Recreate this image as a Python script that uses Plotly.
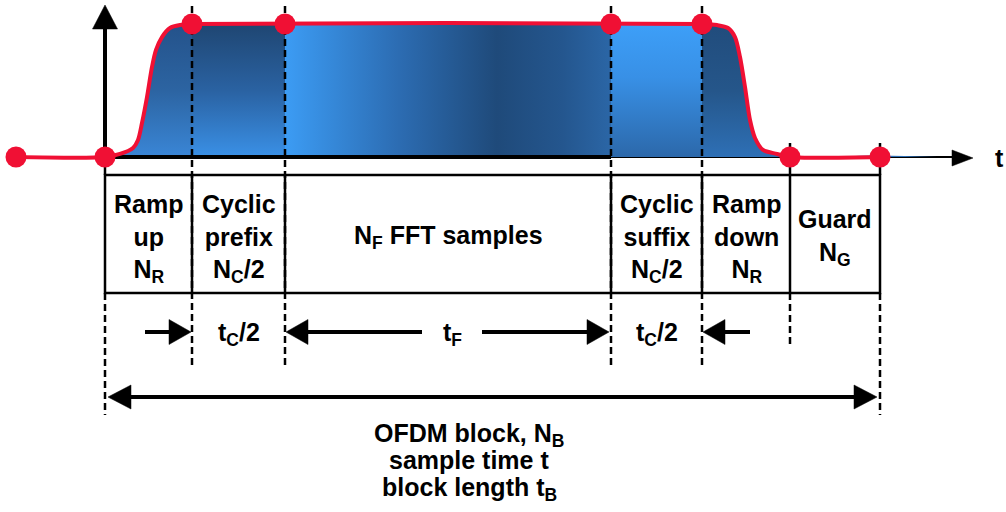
import plotly.graph_objects as go

# ---------------- data ----------------
# time axis: sample-time units, origin at the start of the OFDM block
edges_t = [0, 87, 180, 506, 597, 685, 775]          # segment boundaries
lead_t = [-89]
lead_a = [0.0]
ramp_up_t = [0, 15, 28, 33, 37, 42, 47, 51, 57, 65, 75, 87]
ramp_up_a = [0.0, 0.023, 0.068, 0.128, 0.256, 0.451, 0.677, 0.805, 0.902, 0.970, 0.992, 1.0]
ramp_down_t = [597, 612, 623, 630, 635, 640, 645, 650, 658, 672, 685]
ramp_down_a = [1.0, 0.992, 0.970, 0.902, 0.752, 0.526, 0.278, 0.143, 0.053, 0.023, 0.0]
tail_t = [775, 832]
tail_a = [0.012, 0.0]
marker_t = [-89, 0, 87, 180, 506, 597, 685, 775]
marker_a = [0, 0, 1, 1, 1, 1, 0, 0]

cell_labels = ["Ramp<br>up<br>N<sub>R</sub>",
               "Cyclic<br>prefix<br>N<sub>C</sub>/2",
               "N<sub>F</sub> FFT samples",
               "Cyclic<br>suffix<br>N<sub>C</sub>/2",
               "Ramp<br>down<br>N<sub>R</sub>",
               "Guard<br>N<sub>G</sub>"]
span_labels = ["", "t<sub>C</sub>/2", "t<sub>F</sub>", "t<sub>C</sub>/2", "", ""]
footer_lines = ["OFDM block, N<sub>B</sub>", "sample time t", "block length t<sub>B</sub>"]
axis_label = "t"

# ---------------- layout helpers (pixel -> data) ----------------
W, H = 1006, 512
PX_X0, PX_Y0, PX_PER_UNIT = 105, 157, 133


def X(p):
    return p - PX_X0


def Y(p):
    return (PX_Y0 - p) / PX_PER_UNIT


def xp(t):
    return t + PX_X0


RED = "#F01034"
BLACK = "#000000"
FONT = dict(family="Liberation Sans, Arial, sans-serif", size=25, color=BLACK, weight="bold")

fig = go.Figure()

# thin x axis line (under the fill)
fig.add_trace(go.Scatter(x=[X(105), X(953)], y=[0, 0], mode="lines",
                         line=dict(color=BLACK, width=2), hoverinfo="skip"))

# ---- filled signal, one patch per segment with its own gradient ----
def seg_points(t0, t1, full_t, full_a):
    pts = [(t, a) for t, a in zip(full_t, full_a) if t0 <= t <= t1]
    return [p[0] for p in pts], [p[1] for p in pts]


full_t = ramp_up_t + [edges_t[2], edges_t[3]] + ramp_down_t + tail_t
full_a = ramp_up_a + [1.0, 1.0] + ramp_down_a + tail_a

grads = [
    ("vertical", [[0, "#3a86d6"], [0.5, "#2c64a2"], [1, "#24528a"]]),
    ("vertical", [[0, "#3a90e6"], [0.5, "#2a62a2"], [1, "#1f4672"]]),
    ("horizontal", [[0, "#3c9cf4"], [0.35, "#2c6cb2"], [0.65, "#1f4a7a"],
                    [0.85, "#24568e"], [1, "#2b66a6"]]),
    ("vertical", [[0, "#2c68aa"], [0.6, "#3890e6"], [1, "#3d9ff8"]]),
    ("vertical", [[0, "#2e70b6"], [0.5, "#25568a"], [1, "#214c7c"]]),
]
seg_ranges = [(edges_t[0], edges_t[1]), (edges_t[1], edges_t[2]), (edges_t[2], edges_t[3]),
              (edges_t[3], edges_t[4]), (edges_t[4], tail_t[-1])]
for (t0, t1), (gtype, cs) in zip(seg_ranges, grads):
    st, sa = seg_points(t0, t1, full_t, full_a)
    fig.add_trace(go.Scatter(x=st, y=sa, mode="lines", line=dict(width=0, shape="spline"),
                             fill="tozeroy",
                             fillgradient=dict(type=gtype, colorscale=cs),
                             hoverinfo="skip"))

# thick axis line over the fill
fig.add_trace(go.Scatter(x=[X(105), X(611)], y=[0, 0], mode="lines",
                         line=dict(color=BLACK, width=4), hoverinfo="skip"))
# y axis
fig.add_trace(go.Scatter(x=[0, 0], y=[Y(157), Y(27)], mode="lines",
                         line=dict(color=BLACK, width=4), hoverinfo="skip"))

# ---- dashed guide lines ----
TABLE_TOP, TABLE_BOT = 175, 293
dx, dy = [], []
for e in edges_t[1:5]:
    dx += [e, e, None]
    dy += [Y(6), Y(365), None]
for e, bottom in [(edges_t[0], 415), (edges_t[5], 345), (edges_t[6], 415)]:
    dx += [e, e, None]
    dy += [Y(TABLE_BOT), Y(bottom), None]
fig.add_trace(go.Scatter(x=dx, y=dy, mode="lines",
                         line=dict(color=BLACK, width=2.5, dash="7px,4px"), hoverinfo="skip"))
# short solid ticks above the table
sx, sy = [], []
for e, top in [(edges_t[0], 157), (edges_t[5], 143), (edges_t[6], 143)]:
    sx += [e, e, None]
    sy += [Y(top), Y(TABLE_TOP), None]
fig.add_trace(go.Scatter(x=sx, y=sy, mode="lines", line=dict(color=BLACK, width=2.5),
                         hoverinfo="skip"))

# ---- red signal line and dots ----
line_t = lead_t + ramp_up_t + ramp_down_t + [edges_t[6]]
line_a = lead_a + ramp_up_a + ramp_down_a + [0.0]
fig.add_trace(go.Scatter(x=line_t, y=line_a, mode="lines",
                         line=dict(color=RED, width=4, shape="spline", smoothing=0.8),
                         hoverinfo="skip"))
fig.add_trace(go.Scatter(x=marker_t, y=marker_a, mode="markers",
                         marker=dict(color=RED, size=21, line=dict(width=0)),
                         hoverinfo="skip"))

# ---- shapes: table, arrows ----
shapes = []
shapes.append(dict(type="rect", x0=edges_t[0], x1=edges_t[-1], y0=Y(TABLE_TOP), y1=Y(TABLE_BOT),
                   line=dict(color=BLACK, width=2.5)))
for e in edges_t[1:-1]:
    shapes.append(dict(type="line", x0=e, x1=e, y0=Y(TABLE_TOP), y1=Y(TABLE_BOT),
                       line=dict(color=BLACK, width=2.5)))


def head(tip_px, tip_py, direction, length, half):
    if direction in ("left", "right"):
        s = 1 if direction == "right" else -1
        bx = tip_px - s * length
        pts = [(tip_px, tip_py), (bx, tip_py - half), (bx, tip_py + half)]
    else:
        s = 1 if direction == "down" else -1
        by = tip_py - s * length
        pts = [(tip_px, tip_py), (tip_px - half, by), (tip_px + half, by)]
    path = "M " + " L ".join(f"{X(a):.2f},{Y(b):.4f}" for a, b in pts) + " Z"
    return dict(type="path", path=path, fillcolor=BLACK, line=dict(color=BLACK, width=0.5))


def shaft(x0p, x1p, yp, w=4):
    return dict(type="line", x0=X(x0p), x1=X(x1p), y0=Y(yp), y1=Y(yp),
                line=dict(color=BLACK, width=w))


# axis heads
shapes.append(head(105, 5, "up", 24, 12.5))
shapes.append(head(973, 158, "right", 21, 8))

ROW = 332
b = [xp(e) for e in edges_t]
shapes += [shaft(145, b[1] - 20, ROW), head(b[1] - 1, ROW, "right", 22, 12.5)]
shapes += [head(b[2] + 1, ROW, "left", 22, 12.5), shaft(b[2] + 20, 422, ROW)]
shapes += [shaft(482, b[3] - 20, ROW), head(b[3] - 2, ROW, "right", 22, 12.5)]
shapes += [head(b[4] + 1, ROW, "left", 22, 12.5), shaft(b[4] + 20, 750, ROW)]

BIG = 397
shapes += [shaft(b[0] + 20, b[6] - 20, BIG),
           head(b[0] + 3, BIG, "left", 23, 12),
           head(b[6] - 3, BIG, "right", 23, 12)]

# ---- annotations ----
ann = []
cell_tops = [188, 188, 219, 188, 188, 203]
for i, lab in enumerate(cell_labels):
    ann.append(dict(x=(edges_t[i] + edges_t[i + 1]) / 2, y=Y(cell_tops[i]), text=lab,
                    showarrow=False, xanchor="center", yanchor="top", font=FONT))
for i, lab in enumerate(span_labels):
    if lab:
        cx = (edges_t[i] + edges_t[i + 1]) / 2 if i != 2 else X(452)
        ann.append(dict(x=cx, y=Y(316), text=lab, showarrow=False,
                        xanchor="center", yanchor="top", font=FONT))
for i, (line, top) in enumerate(zip(footer_lines, [417, 444, 471])):
    ann.append(dict(x=X(469), y=Y(top), text=line, showarrow=False,
                    xanchor="center", yanchor="top", font=FONT))
ann.append(dict(x=X(993), y=Y(158), text=axis_label, showarrow=False,
                xanchor="left", yanchor="middle", font=FONT))

fig.update_layout(
    width=W, height=H, margin=dict(l=0, r=0, t=0, b=0),
    paper_bgcolor="white", plot_bgcolor="white", showlegend=False,
    xaxis=dict(range=[X(0), X(W)], visible=False, fixedrange=True),
    yaxis=dict(range=[Y(H), Y(0)], visible=False, fixedrange=True),
    shapes=shapes, annotations=ann,
)

fig.write_html("out.html", config={"displayModeBar": False},
               post_script="document.body.style.margin='0';document.body.style.overflow='hidden';")
